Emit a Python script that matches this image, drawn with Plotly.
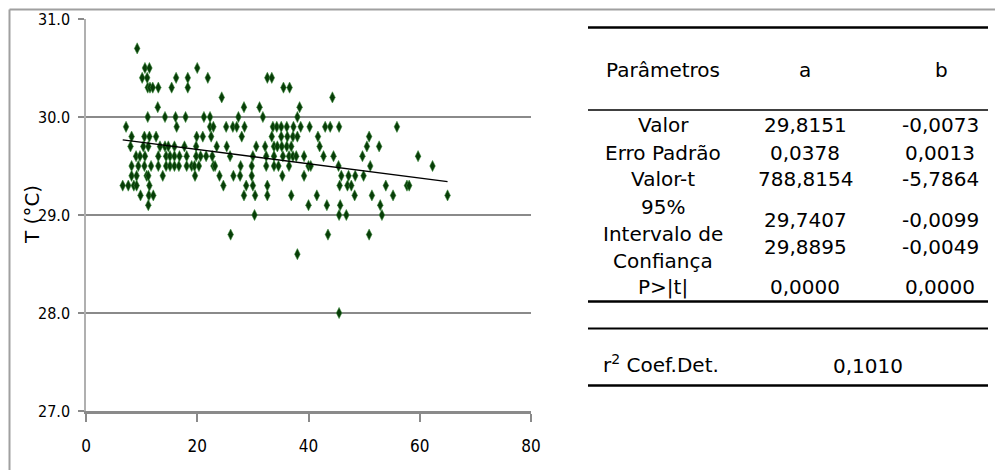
import plotly.graph_objects as go

# ---------------- data ----------------
temp_levels = [30.7, 30.5, 30.4, 30.3, 30.2, 30.1, 30.0, 29.9, 29.8, 29.7,
               29.6, 29.5, 29.4, 29.3, 29.2, 29.1, 29.0, 28.8, 28.6, 28.0]
x_at_level = [
    [9.2],
    [10.6, 11.4, 20.0],
    [10.1, 11.0, 16.2, 18.3, 21.9, 32.6, 33.4],
    [11.1, 11.5, 12.0, 13.0, 15.4, 18.3, 35.5, 36.6],
    [24.4, 44.3],
    [12.9, 28.4, 31.2, 38.4],
    [11.1, 14.2, 16.1, 17.9, 21.2, 22.3, 27.4, 31.8, 38.0],
    [7.2, 16.3, 22.3, 22.9, 25.2, 26.4, 27.1, 28.5, 33.6, 34.3, 35.1, 36.1,
     37.3, 38.6, 40.2, 43.0, 43.9, 45.5, 55.9],
    [8.2, 10.5, 11.4, 12.6, 19.9, 21.0, 22.5, 28.0, 33.4, 35.1, 36.2, 37.2,
     38.0, 41.7, 50.9],
    [8.0, 10.3, 11.2, 13.3, 14.2, 14.8, 15.9, 17.7, 19.8, 23.5, 25.3, 30.6,
     32.2, 33.8, 34.4, 35.2, 36.1, 36.9, 42.0, 50.5, 52.7],
    [9.0, 9.7, 10.6, 13.0, 14.4, 15.1, 15.9, 16.8, 18.1, 19.8, 20.6, 21.6,
     22.7, 25.9, 30.0, 32.4, 33.8, 35.4, 36.5, 37.2, 37.8, 39.2, 42.7, 44.5,
     49.7, 59.7],
    [8.2, 9.4, 10.5, 11.7, 13.0, 14.4, 15.1, 15.9, 16.7, 18.1, 19.0, 19.5,
     20.3, 22.9, 23.2, 27.8, 29.8, 32.4, 33.8, 34.6, 36.5, 40.0, 40.4, 45.4,
     51.1, 62.3],
    [8.2, 9.1, 10.9, 11.2, 13.8, 19.6, 24.0, 26.5, 27.7, 29.8, 35.3, 39.2,
     45.9, 47.2, 48.4, 49.9],
    [6.6, 7.6, 8.6, 9.1, 11.4, 24.7, 28.8, 30.0, 32.6, 45.6, 47.0, 47.7,
     53.9, 57.7, 58.1],
    [9.8, 11.3, 12.1, 28.4, 30.4, 32.6, 36.9, 41.5, 48.3, 51.4, 55.2, 65.0],
    [11.2, 40.0, 43.3, 45.7, 52.9],
    [30.3, 45.5, 46.8, 53.2],
    [26.0, 43.5, 50.9],
    [38.0],
    [45.5],
]

# regression parameters (table)
param_a = 29.8151
param_b = -0.0073
row_labels = ["Valor", "Erro Padrão", "Valor-t", "95%<br>Intervalo de<br>Confiança", "P>|t|"]
col_a = ["29,8151", "0,0378", "788,8154", "29,7407<br>29,8895", "0,0000"]
col_b = ["-0,0073", "0,0013", "-5,7864", "-0,0099<br>-0,0049", "0,0000"]
r2_text = "0,1010"

x_ticks = [0, 20, 40, 60, 80]
y_ticks = [27.0, 28.0, 29.0, 30.0, 31.0]

# ---------------- build ----------------
xs, ys = [], []
for t, row in zip(temp_levels, x_at_level):
    for xv in row:
        xs.append(xv)
        ys.append(t)

x_min, x_max = min(xs), max(xs)
trend_x = [x_min, x_max]
trend_y = [param_a + param_b * v for v in trend_x]

OFF = 8  # page body margin of the html page
PW, PH = 1003, 470
W, H = PW - OFF, PH - OFF
L, R, T, B = 86 - OFF, 531 - OFF, 19 - OFF, 411 - OFF


def px(x):
    return (x - OFF - L) / (R - L)


def py(y):
    return (B - (y - OFF)) / (B - T)


fig = go.Figure()
fig.add_trace(go.Scatter(
    x=xs, y=ys, mode="markers",
    marker=dict(symbol="diamond-tall", size=8, color="#083d08",
                line=dict(width=0.8, color="rgba(60,140,60,0.7)")),
    showlegend=False, hoverinfo="x+y"))
fig.add_trace(go.Scatter(
    x=trend_x, y=trend_y, mode="lines",
    line=dict(color="black", width=1.4), showlegend=False))

tick_font = dict(family="DejaVu Sans Condensed, Liberation Sans Narrow, sans-serif",
                 size=16, color="black")

fig.update_layout(
    width=W, height=H, autosize=False,
    margin=dict(l=L, r=W - R, t=T, b=H - B, pad=0),
    paper_bgcolor="white", plot_bgcolor="white",
    xaxis=dict(range=[0, 80], tickvals=x_ticks, ticktext=[str(v) for v in x_ticks],
               showgrid=False, zeroline=False, showline=True, linecolor="#8a8a8a",
               linewidth=3, ticks="outside", ticklen=8, tickwidth=2, tickcolor="#8a8a8a",
               tickfont=dict(tick_font, size=17), ticklabelstandoff=10, automargin=False),
    yaxis=dict(range=[27, 31], tickvals=y_ticks, ticktext=[f"{v:.1f}" for v in y_ticks],
               showgrid=True, gridcolor="#8a8a8a", gridwidth=2, zeroline=False,
               showline=True, linecolor="#b0b0b0", linewidth=1.5,
               ticks="outside", ticklen=6, tickwidth=2, tickcolor="#8a8a8a",
               tickfont=tick_font, ticklabelstandoff=5, automargin=False),
)

shapes = []
# outer chart-area frame (left and top edges)
shapes.append(dict(type="line", xref="paper", yref="paper",
                   x0=px(9.5), x1=px(9.5), y0=py(9.5), y1=py(480),
                   line=dict(color="#a0a0a0", width=2)))
shapes.append(dict(type="line", xref="paper", yref="paper",
                   x0=px(9.5), x1=px(1010), y0=py(9.5), y1=py(9.5),
                   line=dict(color="#a0a0a0", width=2)))
# table rules
for yy, lw in [(27.5, 2.5), (110, 1.5), (301.5, 2.5), (328.5, 2), (385.5, 2.5)]:
    shapes.append(dict(type="line", xref="paper", yref="paper",
                       x0=px(588), x1=px(988), y0=py(yy), y1=py(yy),
                       line=dict(color="black", width=lw)))
fig.update_layout(shapes=shapes)

tfont = dict(family="DejaVu Sans, Verdana, sans-serif", size=20, color="black")
ann = []


def add(text, x, y, xanchor="center", font=tfont, angle=0):
    ann.append(dict(text=text, x=px(x), y=py(y), xref="paper", yref="paper",
                    xanchor=xanchor, yanchor="middle", showarrow=False,
                    font=font, textangle=angle, align="center"))


add("Parâmetros", 663, 70)
add("a", 805, 70)
add("b", 941, 70)

row_y = [125, 152.7, 179.3, 233.5, 287.3]
for lab, va, vb, yy in zip(row_labels, col_a, col_b, row_y):
    if "<br>" in lab:
        for k, p in enumerate(lab.split("<br>")):
            add(p, 663, 206.7 + 27 * k)
        for k, p in enumerate(va.split("<br>")):
            add(p, 805, 219.5 + 27.3 * k)
        for k, p in enumerate(vb.split("<br>")):
            add(p, 940, 219.5 + 27.3 * k)
    else:
        add(lab, 663, yy)
        add(va, 805, yy)
        add(vb, 940, yy)

add("r<sup>2</sup> Coef.Det.", 601, 364, xanchor="left")
add(r2_text, 868, 366)

add("T (°C)", 32, 215, font=dict(family="DejaVu Sans, Verdana, sans-serif", size=20, color="black"),
    angle=-90)

fig.update_layout(annotations=ann)

fig.write_html("out.html")
